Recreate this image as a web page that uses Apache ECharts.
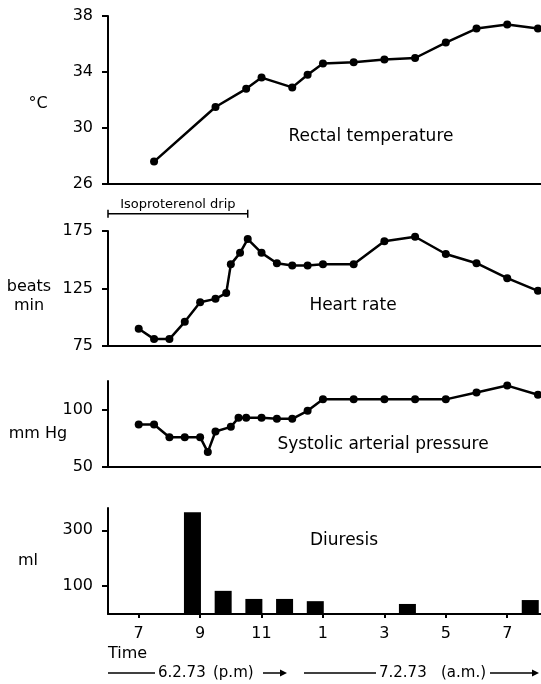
<!DOCTYPE html>
<html><head><meta charset="utf-8">
<script src="https://cdn.jsdelivr.net/npm/echarts@6/dist/echarts.min.js"></script>
<style>html,body{margin:0;padding:0;background:#fff}#c{width:541px;height:684px}</style>
</head><body><div id="c"></div>
<script>
// Time axis: clock hours continued past midnight (19 = 7 p.m., 25 = 1 a.m., 31 = 7 a.m.)
const tempTimes  = [19.5, 21.5, 22.5, 23, 24, 24.5, 25, 26, 27, 28, 29, 30, 31, 32];
const tempValues = [27.6, 31.5, 32.8, 33.6, 32.9, 33.8, 34.6, 34.7, 34.9, 35.0, 36.1, 37.1, 37.4, 37.1];
const hrTimes  = [19, 19.5, 20, 20.5, 21, 21.5, 21.85, 22, 22.3, 22.55, 23, 23.5, 24, 24.5, 25, 26, 27, 28, 29, 30, 31, 32];
const hrValues = [90, 81, 81, 96, 113, 116, 121, 146, 156, 168, 156, 147, 145, 145, 146, 146, 166, 170, 155, 147, 134, 123];
const sbpTimes  = [19, 19.5, 20, 20.5, 21, 21.25, 21.5, 22, 22.25, 22.5, 23, 23.5, 24, 24.5, 25, 26, 27, 28, 29, 30, 31, 32];
const sbpValues = [87, 87, 76, 76, 76, 63, 81, 85, 93, 93, 93, 92, 92, 99, 109, 109, 109, 109, 109, 115, 121, 113];
const urineTimes  = [20.75, 21.75, 22.75, 23.75, 24.75, 27.75, 31.75];
const urineValues = [365, 83, 54, 54, 46, 36, 50];
const hourTicks  = [19, 21, 23, 25, 27, 29, 31];
const hourLabels = ['7', '9', '11', '1', '3', '5', '7'];
const tempTicks  = [26, 30, 34, 38];
const hrTicks    = [75, 125, 175];
const sbpTicks   = [50, 100];
const urineTicks = [100, 300];
const drip = { start: 18, end: 22.55, level: 190, label: 'Isoproterenol drip' };

const FONT = 'DejaVu Sans';
const zip = (a, b) => a.map((v, i) => [v, b[i]]);
const X_MIN = 18, X_MAX = 32.1;
const LEFT = 108;

const grids = [
  { left: LEFT, right: 0, top: 16, height: 168 },
  { left: LEFT, right: 0, top: 231, height: 115 },
  { left: LEFT, right: 0, top: 381, height: 86 },
  { left: LEFT, right: 0, top: 508, height: 106 }
];
const axLine = { show: true, onZero: false, lineStyle: { color: '#000', width: 2 } };

function xAxis(i, bottom) {
  return {
    type: 'value', gridIndex: i, min: X_MIN, max: X_MAX,
    axisLine: axLine, splitLine: { show: false },
    axisTick: bottom ? { show: true, customValues: hourTicks, length: 4, lineStyle: { color: '#000', width: 2 } } : { show: false },
    axisLabel: bottom ? {
      show: true, customValues: hourTicks, margin: 12, color: '#000', fontSize: 16, fontFamily: FONT,
      formatter: v => hourLabels[hourTicks.indexOf(v)]
    } : { show: false }
  };
}
function yAxis(i, min, max, ticks) {
  return {
    type: 'value', gridIndex: i, min, max,
    axisLine: axLine, splitLine: { show: false },
    axisTick: { show: true, customValues: ticks, length: 6, lineStyle: { color: '#000', width: 2 } },
    axisLabel: { show: true, customValues: ticks, margin: 15, color: '#000', fontSize: 16, fontFamily: FONT }
  };
}
const lineSeries = (i, t, v) => ({
  type: 'line', xAxisIndex: i, yAxisIndex: i, data: zip(t, v),
  symbol: 'circle', symbolSize: 8, showSymbol: true,
  itemStyle: { color: '#000' }, lineStyle: { color: '#000', width: 2.5 }, animation: false
});

function txt(x, y, s, size, align) {
  return { type: 'text', x, y, style: { text: s, fill: '#000', font: `${size || 16}px "${FONT}"`,
    textAlign: align || 'center', textVerticalAlign: 'middle' } };
}
function hline(x1, x2, y, w) {
  return { type: 'line', shape: { x1, y1: y, x2, y2: y }, style: { stroke: '#000', lineWidth: w || 1.5 } };
}
function arrowHead(x, y) {
  return { type: 'polygon', shape: { points: [[x - 7, y - 3.5], [x, y], [x - 7, y + 3.5]] }, style: { fill: '#000' } };
}

const chart = echarts.init(document.getElementById('c'), null, { renderer: 'canvas' });
chart.setOption({
  backgroundColor: '#fff',
  animation: false,
  grid: grids,
  xAxis: [xAxis(0, false), xAxis(1, false), xAxis(2, false), xAxis(3, true)],
  yAxis: [
    yAxis(0, 26, 38, tempTicks),
    yAxis(1, 75, 175, hrTicks),
    yAxis(2, 50, 125, sbpTicks),
    yAxis(3, 0, 380, urineTicks)
  ],
  series: [
    lineSeries(0, tempTimes, tempValues),
    lineSeries(1, hrTimes, hrValues),
    lineSeries(2, sbpTimes, sbpValues),
    { type: 'bar', xAxisIndex: 3, yAxisIndex: 3, data: zip(urineTimes, urineValues),
      barWidth: 17, itemStyle: { color: '#000' }, animation: false },
    { type: 'custom', xAxisIndex: 1, yAxisIndex: 1, clip: false,
      data: [[drip.start, drip.end, drip.level]],
      renderItem: (params, api) => {
        const a = api.coord([api.value(0), api.value(2)]);
        const b = api.coord([api.value(1), api.value(2)]);
        const st = { stroke: '#000', lineWidth: 1.5 };
        return { type: 'group', children: [
          { type: 'line', shape: { x1: a[0], y1: a[1], x2: b[0], y2: b[1] }, style: st },
          { type: 'line', shape: { x1: a[0], y1: a[1] - 4, x2: a[0], y2: a[1] + 4 }, style: st },
          { type: 'line', shape: { x1: b[0], y1: b[1] - 4, x2: b[0], y2: b[1] + 4 }, style: st },
          { type: 'text', x: (a[0] + b[0]) / 2, y: a[1] - 9,
            style: { text: drip.label, fill: '#000', font: `13px "${FONT}"`, textAlign: 'center', textVerticalAlign: 'middle' } }
        ] };
      }
    }
  ],
  graphic: [
    txt(371, 137, 'Rectal temperature', 17),
    txt(353, 306, 'Heart rate', 17),
    txt(383, 445, 'Systolic arterial pressure', 17),
    txt(344, 541, 'Diuresis', 17),
    txt(38, 104, '°C', 16),
    txt(29, 287, 'beats', 16),
    txt(29, 306, 'min', 16),
    txt(38, 434, 'mm Hg', 16),
    txt(28, 561, 'ml', 16),
    txt(108, 654, 'Time', 16, 'left'),
    hline(108, 155, 673),
    txt(158, 673, '6.2.73', 15, 'left'),
    txt(213, 673, '(p.m)', 15, 'left'),
    hline(263, 284, 673),
    arrowHead(287, 673),
    hline(304, 376, 673),
    txt(379, 673, '7.2.73', 15, 'left'),
    txt(441, 673, '(a.m.)', 15, 'left'),
    hline(490, 536, 673),
    arrowHead(539, 673)
  ]
});
</script>
</body></html>
